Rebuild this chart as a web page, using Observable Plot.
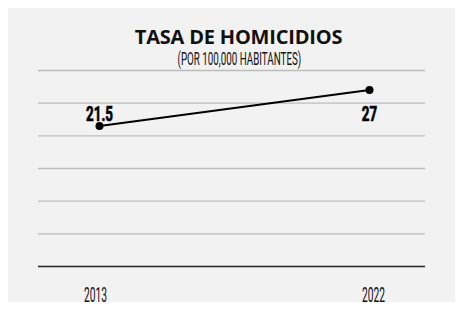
<!DOCTYPE html>
<html><head><meta charset="utf-8">
<script src="https://cdn.jsdelivr.net/npm/d3@7"></script>
<script src="https://cdn.jsdelivr.net/npm/@observablehq/plot@0.6"></script>
<style>
body{margin:0;background:#fff;}
#panel{position:absolute;left:8px;top:8px;width:447px;height:294px;background:#f2f2f2;}
#head{position:relative;height:58px;}
#title{position:absolute;left:0;width:100%;top:20px;text-align:center;padding-left:14px;box-sizing:border-box;font:700 20px/18px "Open Sans";color:#111;letter-spacing:-0.2px;white-space:nowrap;}
#sub{position:absolute;left:0;width:100%;top:43px;text-align:center;padding-left:16px;box-sizing:border-box;font:400 17.5px/17px Roboto;color:#111;}
#sub span{display:inline-block;transform:scaleX(0.56);transform-origin:center;white-space:nowrap;}
svg{display:block;overflow:visible;}
</style></head>
<body><div id="panel"><div id="head"><div id="title">TASA DE HOMICIDIOS</div><div id="sub"><span>(POR 100,000 HABITANTES)</span></div></div><div id="chart"></div></div>
<script>
const years = [2013, 2022];
const rates = [21.5, 27];
const valueLabels = ["21.5", "27"];
const yearLabels = ["2013", "2022"];
const gridValues = [5, 10, 15, 20, 25, 30];

const data = years.map((y, i) => ({year: y, rate: rates[i], label: valueLabels[i], ylab: yearLabels[i]}));
const first = data.filter(d => d.year === years[0]);
const last = data.filter(d => d.year === years[1]);

const valueStyle = {x: "year", y: "rate", text: "label", lineAnchor: "bottom", fontSize: 20, fontWeight: 700, fontFamily: "Roboto", fill: "#000", stroke: "#000", strokeWidth: 0.7};
const yearStyle = {x: "year", y: () => 0, text: "ylab", lineAnchor: "bottom", dy: 35, fontSize: 20.5, fontWeight: 400, fontFamily: "Roboto", fill: "#111"};

const chart = Plot.plot({
  width: 447, height: 245,
  marginLeft: 30, marginRight: 30, marginTop: 4, marginBottom: 45,
  insetLeft: 61, insetRight: 56,
  style: {background: "transparent", overflow: "visible"},
  x: {domain: [years[0], years[1]], axis: null},
  y: {domain: [0, 30], axis: null},
  marks: [
    Plot.ruleY(gridValues, {stroke: "#bcbcbc", strokeWidth: 1.3}),
    Plot.ruleY([0], {stroke: "#222", strokeWidth: 1.6}),
    Plot.line(data, {x: "year", y: "rate", stroke: "#000", strokeWidth: 2}),
    Plot.dot(data, {x: "year", y: "rate", r: 4, fill: "#000"}),
    Plot.text(first, {...valueStyle, dy: -5}),
    Plot.text(last, {...valueStyle, dy: 31}),
    Plot.text(first, {...yearStyle, dx: -4}),
    Plot.text(last, {...yearStyle, dx: 4})
  ]
});
document.getElementById("chart").appendChild(chart);

function condenseGroup(g, k) {
  g.querySelectorAll("text").forEach(el => {
    if (el.hasAttribute("x")) el.setAttribute("x", (+el.getAttribute("x") || 0) / k);
    el.setAttribute("transform", (el.getAttribute("transform") || "") + ` scale(${k},1)`);
  });
}
const textGroups = chart.querySelectorAll('g[aria-label="text"]');
condenseGroup(textGroups[0], 0.67);
condenseGroup(textGroups[1], 0.67);
condenseGroup(textGroups[2], 0.5);
condenseGroup(textGroups[3], 0.5);
</script>
</body></html>
